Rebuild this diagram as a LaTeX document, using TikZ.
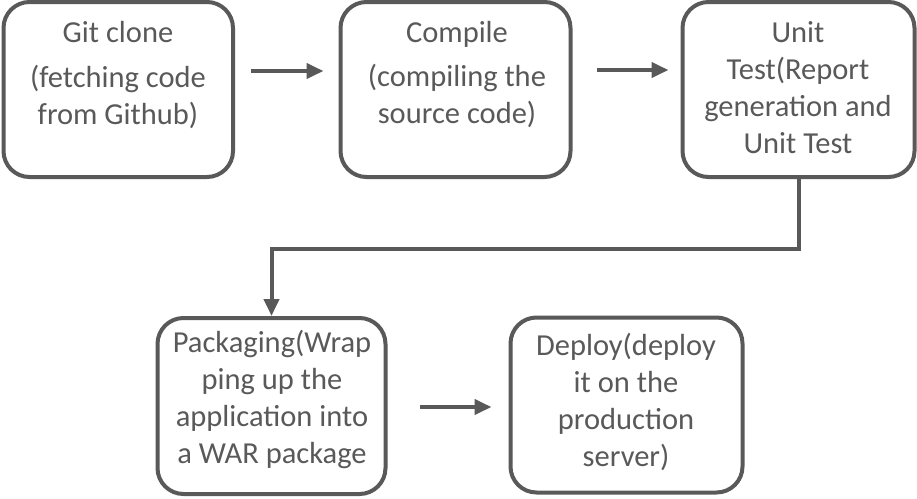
\documentclass[tikz,border=0pt]{standalone}
\usepackage{fontspec}
\setmainfont{Carlito}
\usetikzlibrary{arrows.meta,calc}
\definecolor{ink}{HTML}{595959}
\begin{document}
\begin{tikzpicture}[x=1pt,y=1pt,
  stepbox/.style={draw=ink,line width=4pt,rounded corners=26pt,fill=white,minimum width=#1,minimum height=175pt,inner sep=0pt},
  stepbox/.default=230pt,
  steptext/.style={text=ink,font=\fontsize{30.5}{37}\selectfont,align=center,inner sep=0pt,anchor=north},
  flow/.style={draw=ink,line width=4pt,-{Triangle[length=17pt,width=15pt]}}]
\useasboundingbox (0,0) rectangle (917,-498);
\node[stepbox=229.5pt] (b1) at (118.25,-89.5) {};
\node[stepbox=230pt] (b2) at (455.5,-89.5) {};
\node[stepbox=232pt] (b3) at (798.5,-89.5) {};
\node[stepbox=228pt,minimum height=176pt] (b4) at (271.5,-406) {};
\node[stepbox=232pt] (b5) at (626.5,-405) {};
\node[steptext] (t1) at (118,-16.1) {\strut Git clone\\[8pt](fetching code\\from Github)};
\node[steptext] (t2) at (457,-16.1) {\strut Compile\\[7pt](compiling the\\source code)};
\node[steptext] (t3) at (798,-16.1) {\strut Unit\\Test(Report\\generation and\\Unit Test};
\node[steptext] (t4) at (272,-326.1) {\strut Packaging(Wrap\\ping up the\\application into\\a WAR package};
\node[steptext] (t5) at (626,-329.1) {\strut Deploy(deploy\\it on the\\production\\server)};
\draw[flow] ([shift={(16pt,18.5pt)}]b1.east) -- ([shift={(-15pt,18.5pt)}]b2.west);
\draw[flow] ([shift={(24pt,19.5pt)}]b2.east) -- ([shift={(-12pt,19.5pt)}]b3.west);
\draw[flow] ([shift={(32pt,-1pt)}]b4.east) -- ([shift={(-17pt,-2pt)}]b5.west);
\draw[flow] (b3.south) -- ++(0,-70pt) -| (b4.north);
\end{tikzpicture}
\end{document}
